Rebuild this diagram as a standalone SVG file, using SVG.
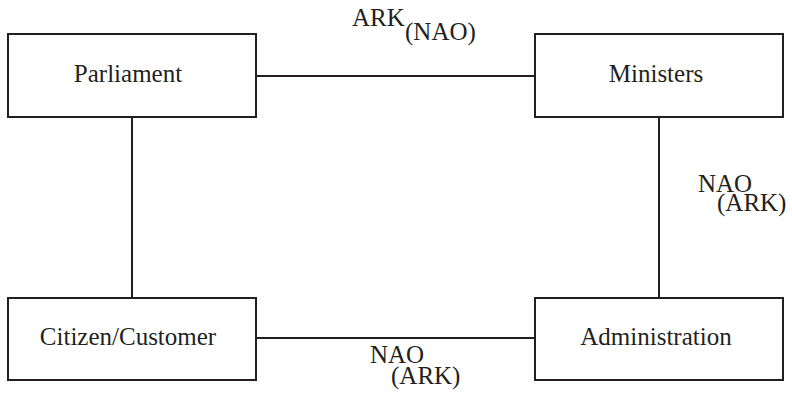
<svg xmlns="http://www.w3.org/2000/svg" width="792" height="401" viewBox="0 0 792 401">
  <style>
    .box { fill: #ffffff; stroke: #231f20; stroke-width: 2; }
    .link { stroke: #231f20; stroke-width: 2; fill: none; }
  </style>
  <rect width="792" height="401" fill="#ffffff"/>
  <g font-family="Liberation Serif, DejaVu Serif, serif" font-size="25" fill="#231f20">
    <g id="connectors">
      <line class="link" x1="256" y1="76" x2="535" y2="76"/>
      <line class="link" x1="132" y1="117" x2="132" y2="298"/>
      <line class="link" x1="659" y1="117" x2="659" y2="298"/>
      <line class="link" x1="256" y1="338" x2="535" y2="338"/>
      <text x="352" y="26">ARK</text>
      <text x="405" y="40">(NAO)</text>
      <text x="698" y="192">NAO</text>
      <text x="717" y="211">(ARK)</text>
      <text x="370" y="363">NAO</text>
      <text x="391" y="384">(ARK)</text>
    </g>
    <g id="parliament">
      <rect class="box" x="8" y="34" width="248" height="83"/>
      <text text-anchor="middle" x="128" y="82">Parliament</text>
    </g>
    <g id="ministers">
      <rect class="box" x="535" y="34" width="248" height="83"/>
      <text text-anchor="middle" x="656" y="82">Ministers</text>
    </g>
    <g id="citizen">
      <rect class="box" x="8" y="298" width="248" height="82"/>
      <text text-anchor="middle" x="128" y="345">Citizen/Customer</text>
    </g>
    <g id="administration">
      <rect class="box" x="535" y="298" width="248" height="82"/>
      <text text-anchor="middle" x="656" y="345">Administration</text>
    </g>
  </g>
</svg>
